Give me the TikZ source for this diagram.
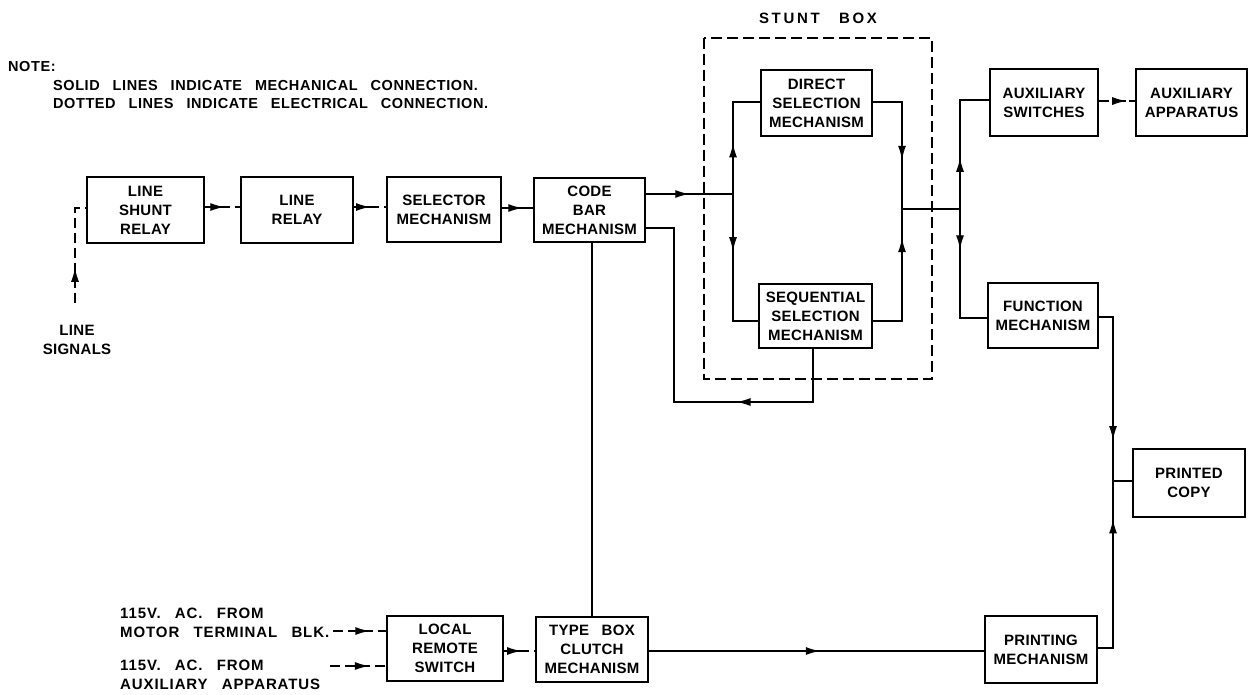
\documentclass[tikz,border=0pt]{standalone}
\usepackage{fontspec}
\setmainfont{Liberation Sans}[WordSpace=2.8,LetterSpace=2]
\usetikzlibrary{arrows.meta,calc}
\newcommand\lbl{\fontsize{15}{19}\selectfont\bfseries}
\newcommand\ntf{\fontsize{14.5}{17}\selectfont\bfseries\addfontfeature{LetterSpace=4}}
\newcommand\arr[3]{\draw[tipst] ($(#1)!#3-0.01!(#2)$) -- ($(#1)!#3!(#2)$);}
\begin{document}
\begin{tikzpicture}[x=1pt,y=-1pt,
  box/.style={draw, line width=1.1pt, minimum width=112pt, minimum height=66pt, align=center, inner sep=0pt, font=\lbl},
  mech/.style={line width=1.3pt},
  elec/.style={line width=1.3pt, dash pattern=on 10pt off 5pt},
  tipst/.style={line width=1.3pt, -{Latex[length=14pt,width=8pt]}},
  txt/.style={inner sep=0pt, font=\lbl}]
\useasboundingbox (0,0) rectangle (1249,694);
% boxes
\node[box, minimum width=117pt] (shunt) at (145.5,210) {LINE\\SHUNT\\RELAY};
\node[box] (lrelay) at (297,210) {LINE\\RELAY};
\node[box, minimum width=114pt, minimum height=65pt] (sel) at (444,209.5) {SELECTOR\\MECHANISM};
\node[box, minimum width=111pt, minimum height=64pt] (code) at (589.5,210) {CODE\\BAR\\MECHANISM};
\node[box, minimum width=111pt] (direct) at (816.5,103) {DIRECT\\SELECTION\\MECHANISM};
\node[box, minimum width=113pt, minimum height=64pt] (seq) at (815.5,316) {SEQUENTIAL\\SELECTION\\MECHANISM};
\node[box, minimum width=108pt, minimum height=67pt] (auxsw) at (1044,102.5) {AUXILIARY\\SWITCHES};
\node[box, minimum width=111pt, minimum height=67pt] (auxapp) at (1191.5,102.5) {AUXILIARY\\APPARATUS};
\node[box, minimum width=110pt, minimum height=65pt] (func) at (1043,315.5) {FUNCTION\\MECHANISM};
\node[box, minimum height=68pt] (printed) at (1189,483) {PRINTED\\COPY};
\node[box, minimum height=67pt] (printing) at (1041,649.5) {PRINTING\\MECHANISM};
\node[box, minimum height=65pt] (type) at (592,649.5) {TYPE BOX\\CLUTCH\\MECHANISM};
\node[box, minimum width=116pt, minimum height=65pt] (local) at (445,648.5) {LOCAL\\REMOTE\\SWITCH};
% texts
\node[txt, anchor=west, font=\ntf] (note) at (8,67) {NOTE:};
\node[txt, anchor=west, font=\ntf] (n1) at (53,86) {SOLID LINES INDICATE MECHANICAL CONNECTION.};
\node[txt, anchor=west, font=\ntf] (n2) at (53,104) {DOTTED LINES INDICATE ELECTRICAL CONNECTION.};
\node[txt, font=\lbl\addfontfeature{LetterSpace=18}] (stunt) at (818,18) {STUNT BOX};
\node[txt, align=center] (ls) at (77,340) {LINE\\SIGNALS};
\node[txt, anchor=west, align=left, font=\lbl\addfontfeature{LetterSpace=6}] (mt) at (120,623) {115V. AC. FROM\\MOTOR TERMINAL BLK.};
\node[txt, anchor=west, align=left, font=\lbl\addfontfeature{LetterSpace=6}] (aa) at (120,675) {115V. AC. FROM\\AUXILIARY APPARATUS};
% stunt box frame
\draw[line width=1.3pt, dash pattern=on 11pt off 5pt] (704,38) rectangle (932,379);
% coordinates
\coordinate (lsb) at (75,303);
\coordinate (lst) at (75,208);
\coordinate (j1) at (733,194);
\coordinate (dl) at (733,102);
\coordinate (sl) at (733,321);
\coordinate (dr) at (902,102);
\coordinate (j2) at (902,209);
\coordinate (sr) at (902,321);
\coordinate (j3) at (960,209);
\coordinate (al) at (960,100);
\coordinate (fl) at (960,318);
\coordinate (fr) at (1113,317);
\coordinate (j4) at (1113,481);
\coordinate (pr) at (1113,648);
\coordinate (sb) at (813,402);
\coordinate (cb) at (674,402);
\coordinate (ct) at (674,228);
\coordinate (m1) at (333,631);
\coordinate (m2) at (330,666);
\coordinate (e1a) at ([yshift=3pt]shunt.east);
\coordinate (e1b) at ([yshift=3pt]lrelay.west);
\coordinate (e2a) at ([yshift=3pt]lrelay.east);
\coordinate (e2b) at ([yshift=2.5pt]sel.west);
\coordinate (e3a) at ([yshift=1.5pt]auxsw.east);
\coordinate (e3b) at ([yshift=1.5pt]auxapp.west);
\coordinate (e4a) at ([yshift=-2.5pt]local.east);
\coordinate (e4b) at ([yshift=-1.5pt]type.west);
\coordinate (m1b) at (m1 -| local.west);
\coordinate (m2b) at (m2 -| local.west);
\coordinate (s1a) at ([yshift=1.5pt]sel.east);
\coordinate (s1b) at ([yshift=2pt]code.west);
\coordinate (c1) at (code.east |- j1);
\coordinate (t1a) at ([yshift=-1.5pt]type.east);
\coordinate (t1b) at ([yshift=-1.5pt]printing.west);
% electrical connections
\draw[elec] (lsb) -- (lst) -- (lst -| shunt.west);
\draw[elec] (e1a) -- (e1b);
\draw[elec] (e2a) -- (e2b);
\draw[elec] (e3a) -- (e3b);
\draw[elec] (e4a) -- (e4b);
\draw[elec] (m1) -- (m1b);
\draw[elec] (m2) -- (m2b);
% mechanical connections
\draw[mech] (s1a) -- (s1b);
\draw[mech] (c1) -- (j1);
\draw[mech] (j1) -- (dl) -- (dl -| direct.west);
\draw[mech] (j1) -- (sl) -- (sl -| seq.west);
\draw[mech] (direct.east |- dr) -- (dr) -- (j2);
\draw[mech] (seq.east |- sr) -- (sr) -- (j2);
\draw[mech] (j2) -- (j3);
\draw[mech] (j3) -- (al) -- (al -| auxsw.west);
\draw[mech] (j3) -- (fl) -- (fl -| func.west);
\draw[mech] (func.east |- fr) -- (fr) -- (j4);
\draw[mech] (printing.east |- pr) -- (pr) -- (j4);
\draw[mech] (j4) -- (j4 -| printed.west);
\draw[mech] (t1a) -- (t1b);
\draw[mech] (code.south -| type.north) -- (type.north);
\draw[mech] (seq.south -| sb) -- (sb) -- (cb) -- (ct) -- (ct -| code.east);
% arrowheads
\arr{lsb}{lst}{0.37}
\arr{e1a}{e1b}{0.55}
\arr{e2a}{e2b}{0.5}
\arr{e3a}{e3b}{0.75}
\arr{e4a}{e4b}{0.55}
\arr{m1}{m1b}{0.68}
\arr{m2}{m2b}{0.69}
\arr{s1a}{s1b}{0.65}
\arr{c1}{j1}{0.5}
\arr{j1}{dl}{0.55}
\arr{j1}{sl}{0.45}
\arr{dr}{j2}{0.54}
\arr{sr}{j2}{0.74}
\arr{j3}{al}{0.47}
\arr{j3}{fl}{0.37}
\arr{fr}{j4}{0.75}
\arr{pr}{j4}{0.77}
\arr{t1a}{t1b}{0.51}
\arr{sb}{cb}{0.55}
\end{tikzpicture}
\end{document}
